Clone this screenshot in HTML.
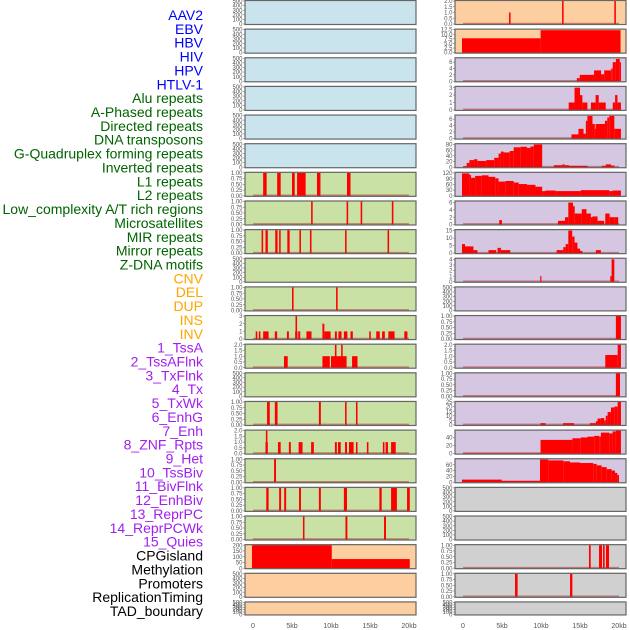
<!DOCTYPE html>
<html><head><meta charset="utf-8"><style>
html,body{margin:0;padding:0;background:#fff;width:630px;height:630px;overflow:hidden}
svg{display:block}
</style></head><body>
<svg id="chart" width="630" height="630" xmlns="http://www.w3.org/2000/svg" font-family="Liberation Sans, sans-serif"></svg>
<script>
const trackNames=["AAV2","EBV","HBV","HIV","HPV","HTLV-1","Alu repeats","A-Phased repeats","Directed repeats","DNA transposons","G-Quadruplex forming repeats","Inverted repeats","L1 repeats","L2 repeats","Low_complexity A/T rich regions","Microsatellites","MIR repeats","Mirror repeats","Z-DNA motifs","CNV","DEL","DUP","INS","INV","1_TssA","2_TssAFlnk","3_TxFlnk","4_Tx","5_TxWk","6_EnhG","7_Enh","8_ZNF_Rpts","9_Het","10_TssBiv","11_BivFlnk","12_EnhBiv","13_ReprPC","14_ReprPCWk","15_Quies","CPGisland","Methylation","Promoters","ReplicationTiming","TAD_boundary"];
const xTickValues=[0,5,10,15,20];
const xTickLabels=["0","5kb","10kb","15kb","20kb"];
// left column segments [startKb,endKb,value]
const segL6=[[1.3,1.75,1],[3.1,3.55,1],[5.0,5.35,1],[5.65,6.75,1],[8.2,8.65,1],[12.05,12.5,1]];
const segL7=[[7.45,7.65,1],[12.0,12.2,1],[13.8,14.0,1],[17.8,18.0,1]];
const segL8=[[1.1,1.3,1],[1.6,1.9,1],[2.85,3.15,1],[3.35,3.55,1],[4.4,4.7,1],[5.95,6.15,1],[7.3,7.5,1],[11.8,12.0,1],[17.25,17.45,1]];
const segL10=[[5.0,5.2,1],[10.65,10.85,1]];
const segL11=[[0.35,0.55,1],[0.75,0.95,1],[1.3,2.0,1],[2.8,3.1,1],[4.35,4.6,1],[5.4,5.7,1],[5.45,5.65,3],[5.8,6.05,1],[6.85,7.5,1],[8.9,9.15,2],[9.15,9.95,1],[10.5,10.75,1],[10.95,11.35,1],[11.65,12.1,1],[12.5,12.8,1],[14.9,15.1,1],[15.8,16.25,1],[16.55,16.9,1],[17.35,18.15,1],[19.4,19.8,1]];
const segL12=[[3.97,4.45,1],[8.9,9.85,1],[10.0,12.0,1],[10.5,10.7,2],[11.3,11.5,2],[12.7,13.4,1]];
const segL14=[[1.8,2.15,1],[2.8,3.15,1],[8.45,8.7,1],[11.8,12.0,1],[13.2,13.4,1]];
const segL15=[[1.6,1.9,1],[1.65,1.85,2],[3.2,3.55,1],[4.6,4.85,1],[5.85,6.35,1],[7.45,7.8,1],[10.5,10.75,1],[10.9,11.25,1],[11.8,12.05,1],[12.3,12.9,1],[13.2,13.4,1],[14.6,14.8,1],[16.65,16.85,1],[17.0,17.3,1],[17.7,18.3,1]];
const segL16=[[2.7,2.95,1]];
const segL17=[[1.7,2.0,1],[3.35,3.6,1],[4.0,4.25,1],[5.9,6.15,1],[8.45,8.7,1],[11.65,12.05,1],[16.2,16.5,1],[17.7,18.45,1],[19.75,20.1,1]];
const segL18=[[6.4,6.6,1],[11.85,12.1,1],[16.8,17.05,1]];
const segL19=[[-0.13,10.1,200],[10.1,20.1,79]];
// right column segments
const segR0=[[5.9,6.1,1],[12.7,12.9,2],[19.4,19.6,2]];
const segR1=[[-0.13,9.95,7.8],[9.95,20.2,12.2]];
const segR2=[[14.6,14.97,1],[14.97,16.8,2],[16.8,17.7,3.4],[17.7,18.1,2.2],[18.1,19.0,3.4],[19.0,19.2,4],[19.2,19.6,6],[19.6,20.1,7],[20.1,20.25,6]];
const segR3=[[13.55,14.3,1],[14.3,15.0,3],[15.0,15.3,2],[15.3,15.95,1],[16.4,17.0,1],[17.0,17.4,2],[17.4,18.3,1],[19.2,19.5,1],[19.5,19.8,2],[19.8,20.25,1]];
const segR4=[[13.9,14.8,1.3],[14.8,15.45,3],[15.45,15.75,1.5],[15.75,15.95,5.5],[15.95,16.6,7],[16.6,16.9,4.5],[16.9,17.0,3],[17.0,18.2,4.5],[18.2,18.5,5.5],[18.5,18.75,6.5],[18.75,19.4,7],[19.4,20.25,3]];
const segR5=[[0.04,0.47,3],[0.47,0.82,15],[0.82,1.42,25],[1.42,1.85,28],[1.85,2.97,22],[2.97,4.0,25],[4.0,4.56,33],[4.56,4.86,48],[4.86,5.2,55],[5.2,5.98,52],[5.98,6.5,57],[6.5,7.35,70],[7.35,8.2,72],[8.2,8.65,68],[8.65,9.08,73],[9.08,10.15,80],[11.65,12.73,7],[12.73,13.03,10],[13.03,13.6,7],[13.6,15.96,5],[17.8,18.3,5],[18.3,18.97,10],[18.97,19.4,6]];
const segR6=[[-0.13,0.82,118],[0.82,1.03,110],[1.03,1.55,95],[1.55,2.41,105],[2.41,3.27,108],[3.27,4.13,100],[4.13,4.56,92],[4.56,5.42,75],[5.42,6.5,78],[6.5,7.14,70],[7.14,8.2,62],[8.2,9.29,58],[9.29,10.15,48],[10.15,10.58,25],[10.58,11.87,28],[11.87,15.1,25],[15.1,18.75,30],[18.75,19.18,25],[19.18,20.25,28]];
const segR7=[[4.65,4.99,1.2],[12.17,13.08,1],[13.08,13.5,2],[13.5,14.1,6],[14.1,14.32,5],[14.32,15.23,3],[15.23,15.83,4.2],[15.83,16.39,3],[16.39,16.6,2],[16.6,17.25,2.2],[17.25,18.1,1],[18.24,18.8,3],[18.8,19.4,2],[19.4,19.9,2]];
const segR8=[[-0.13,0.26,6],[0.26,1.33,4.5],[1.33,1.85,2],[3.27,4.26,2],[4.43,4.86,3.5],[4.86,6.06,2],[12.0,12.86,2],[12.86,13.16,4],[13.16,13.5,6],[13.5,14.0,15],[14.0,14.3,11],[14.3,14.67,7],[14.67,15.0,3],[15.0,15.3,1.5],[17.03,17.68,2]];
const segR9=[[9.9,10.05,1],[18.88,19.05,1],[19.05,19.4,4]];
const segR11=[[19.6,20.25,1]];
const segR12=[[18.24,19.83,1.1],[19.83,20.25,2]];
const segR13=[[19.6,20.13,1]];
const segR14=[[9.94,10.58,2],[12.82,14.24,2],[16.26,17.03,2],[17.03,17.25,4],[17.25,17.68,7],[17.68,18.1,7.5],[18.1,18.3,5],[18.3,18.54,10],[18.54,18.97,14],[18.97,19.4,19],[19.4,19.83,20],[19.83,20.25,25]];
const segR15=[[0,9.94,1],[9.94,14.03,34],[14.03,15.1,38],[15.1,15.96,40],[15.96,16.82,42],[16.82,17.46,44],[17.46,17.68,42],[17.68,18.75,52],[18.75,19.18,50],[19.18,19.6,55],[19.6,20.25,57]];
const segR16=[[-0.13,4.96,9],[4.96,9.87,5],[9.87,10.94,78],[10.94,12.86,75],[12.86,13.72,72],[13.72,15.0,68],[15.0,16.7,66],[16.7,17.14,63],[17.14,17.78,58],[17.78,18.42,52],[18.42,19.06,45],[19.06,19.49,40],[19.49,19.79,32],[19.79,20.0,25]];
const segR19=[[16.15,16.37,1],[17.44,17.82,1],[17.95,18.16,1],[18.33,18.72,1]];
const segR20=[[6.67,7.0,1],[13.72,14.02,1]];
// y tick sets
const tEmpty=[0,100,200,300,400,500];
const tUnit=[0,0.25,0.5,0.75,1];
const tTwo=[0,0.5,1,1.5,2];
const C={blue:"#c9e4ec",green:"#c9e1a5",orange:"#fdcfa0",purple:"#d5c6e2",gray:"#d0d0d0"};
// [col,row,color,segments,ymax,ticks,decimals]
const panels=[
 [0,0,"blue",null],[0,1,"blue",null],[0,2,"blue",null],[0,3,"blue",null],[0,4,"blue",null],[0,5,"blue",null],
 [0,6,"green",segL6,1,tUnit,2],[0,7,"green",segL7,1,tUnit,2],[0,8,"green",segL8,1,tUnit,2],[0,9,"green",null],
 [0,10,"green",segL10,1,tUnit,2],[0,11,"green",segL11,3,[0,1,2,3],0],[0,12,"green",segL12,2,tTwo,1],[0,13,"green",null],
 [0,14,"green",segL14,1,tUnit,2],[0,15,"green",segL15,2,tTwo,1],[0,16,"green",segL16,1,tUnit,2],[0,17,"green",segL17,1,tUnit,2],
 [0,18,"green",segL18,1,tUnit,2],[0,19,"orange",segL19,200,[0,50,100,150,200],0],[0,20,"orange",null],[0,21,"orange",null],
 [1,0,"orange",segR0,2,tTwo,1],[1,1,"orange",segR1,12.5,[0,2.5,5,7.5,10,12.5],1],[1,2,"purple",segR2,7.2,[0,2,4,6],0],
 [1,3,"purple",segR3,3.1,[0,1,2,3],0],[1,4,"purple",segR4,7.1,[0,2,4,6],0],[1,5,"purple",segR5,81,[0,20,40,60,80],0],
 [1,6,"purple",segR6,121,[0,30,60,90,120],0],[1,7,"purple",segR7,6.3,[0,2,4,6],0],[1,8,"purple",segR8,15.3,[0,5,10,15],0],
 [1,9,"purple",segR9,4.1,[0,1,2,3,4],0],[1,10,"purple",null],[1,11,"purple",segR11,1,tUnit,2],[1,12,"purple",segR12,2,tTwo,1],
 [1,13,"purple",segR13,1,tUnit,2],[1,14,"purple",segR14,25,[0,5,10,15,20,25],0],[1,15,"purple",segR15,57,[0,20,40],0],
 [1,16,"purple",segR16,79,[0,20,40,60],0],[1,17,"gray",null],[1,18,"gray",null],[1,19,"gray",segR19,1,tUnit,2],
 [1,20,"gray",segR20,1,tUnit,2],[1,21,"gray",null]
];
const labelColors=[];
for(let i=0;i<44;i++){labelColors.push(i<6?"#0000ff":i<19?"#006400":i<24?"#ffa500":i<39?"#a020f0":"#000000");}

const svg=document.getElementById('chart');
const NS="http://www.w3.org/2000/svg";
function mk(tag,attrs,parent){const e=document.createElementNS(NS,tag);for(const k in attrs)e.setAttribute(k,attrs[k]);(parent||svg).appendChild(e);return e;}
function xScale(col,kb){return (col===0?253:463)+kb*7.8;}
function rowTop(r){return r*28.64;}
function rowH(r){return r===21?14:25;}

trackNames.forEach((n,i)=>{
  const t=mk('text',{x:203,y:(15+i*13.86+5).toFixed(1),'text-anchor':'end','font-size':'14',fill:labelColors[i]});
  
  
  t.textContent=n;
});

panels.forEach(p=>{
  const [col,row,color,segs,ymaxIn,ticksIn,dec]=p;
  const x0=col===0?245:455, w=171, top=rowTop(row), h=rowH(row);
  const g=mk('g',{});
  
  
  mk('rect',{x:x0,y:top,width:w,height:h,fill:C[color]},g);
  const ymax=segs?ymaxIn:500, ticks=segs?ticksIn:tEmpty, d=segs?dec:0;
  const yS=v=>top+h-1-v/ymax*(h-2);
  ticks.forEach(v=>{
    const yy=yS(v);
    mk('line',{x1:x0-2,x2:x0,y1:yy,y2:yy,stroke:'#777','stroke-width':0.6},g);
    const t=mk('text',{x:x0-2.5,y:(yy+2.1).toFixed(1),'text-anchor':'end','font-size':'6',fill:'#555'},g);
    
    
    t.textContent=v.toFixed(d);
  });
  if(segs){
    mk('line',{x1:xScale(col,0),x2:xScale(col,20),y1:yS(0)-0.5,y2:yS(0)-0.5,stroke:'#b03030','stroke-width':1.6,'stroke-opacity':0.55},g);
    segs.forEach(s=>{
      const xa=xScale(col,s[0]), xb=xScale(col,s[1]);
      const b=mk('rect',{x:xa.toFixed(2),y:yS(s[2]).toFixed(2),width:Math.max(1.2,xb-xa).toFixed(2),height:(yS(0)-yS(s[2])).toFixed(2),fill:'#ff0000'},g);
      
      
    });
  }
  mk('rect',{x:x0,y:top+0.5,width:w,height:h-1,fill:'none',stroke:'#666','stroke-width':1.2},g);
});

[0,1].forEach(col=>{
  xTickValues.forEach((v,i)=>{
    const t=mk('text',{x:xScale(col,v),y:628,'text-anchor':'middle','font-size':'7',fill:'#555'});
    
    
    t.textContent=xTickLabels[i];
  });
});
</script>
</body></html>
